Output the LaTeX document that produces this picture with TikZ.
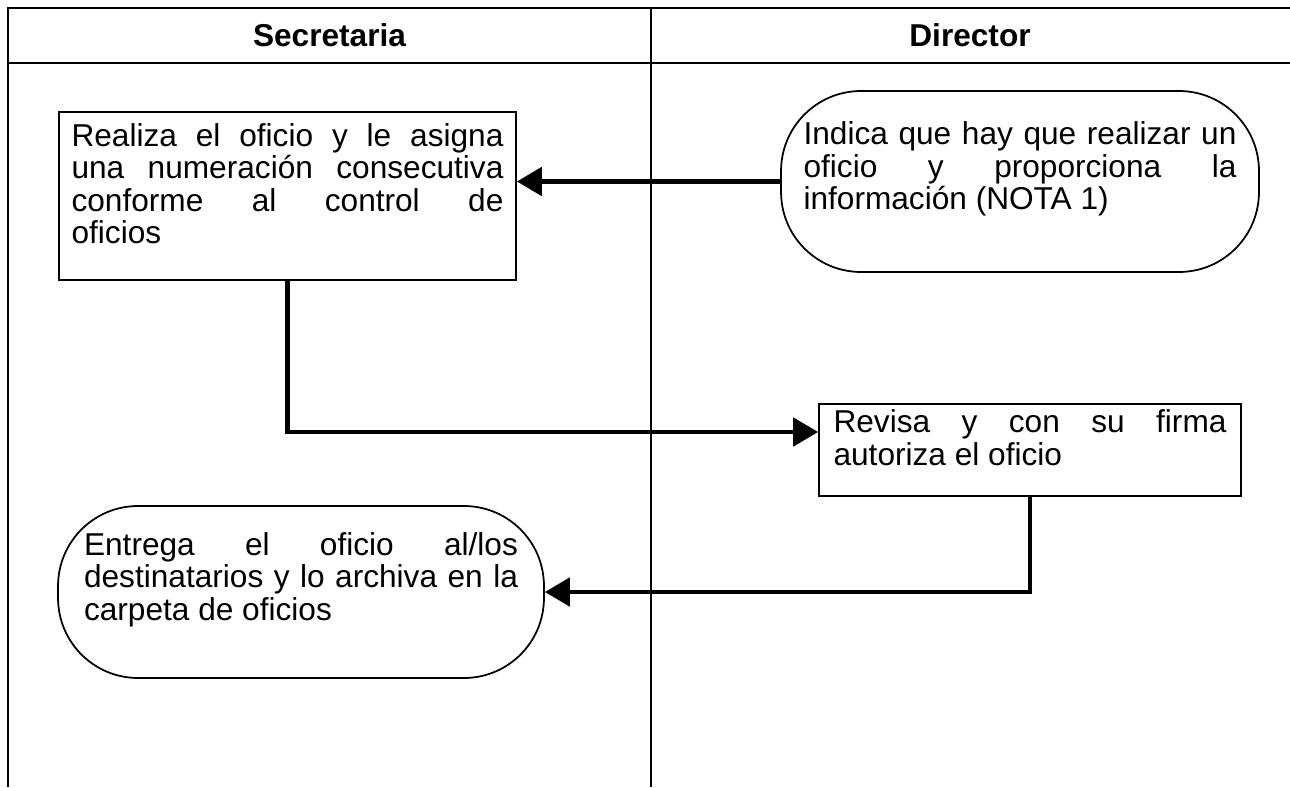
\documentclass[tikz,border=0pt]{standalone}
\usepackage{fontspec}
\setmainfont{Liberation Sans}
\usepackage{tikz}
\usetikzlibrary{arrows.meta}
\hyphenpenalty=10000
\exhyphenpenalty=10000
\tolerance=9999
\emergencystretch=2em
\newcommand{\subir}{\par\kern0.5cm}
\tikzset{
  caja/.style={draw, line width=1pt, rectangle, align=justify, inner xsep=0pt, inner ysep=0pt,
    font=\fontsize{18}{18.5}\selectfont},
  capsula/.style={caja, rounded corners=1.6cm},
  titulo/.style={font=\fontsize{18}{20}\selectfont\bfseries},
  marco/.style={line width=1.1pt},
  flecha/.style={line width=2.8pt, -{Triangle[length=0.5cm,width=0.56cm]}}
}
\begin{document}
\begin{tikzpicture}[x=0.02cm,y=-0.02cm]
	\useasboundingbox (0,0) rectangle (1290,787);
	% tabla
	\draw[marco] (1290,8) -- (8,8) -- (8,787);
	\draw[marco] (8,63) -- (1290,63);
	\draw[marco] (651,8) -- (651,787);
	\node[titulo] (secretaria) at (329.5,35) {Secretaria};
	\node[titulo] (director) at (970,35) {Director};
	% pasos
	\node[caja, minimum width=9.14cm, minimum height=3.36cm, text width=8.64cm] (realiza) at (287.5,196)
		{Realiza el oficio y le asigna\linebreak una numeración consecutiva\linebreak conforme al control de\linebreak oficios\subir};
	\node[capsula, minimum width=9.56cm, minimum height=3.62cm, text width=8.66cm] (indica) at (1020,181.5)
		{Indica que hay que realizar un\linebreak oficio y proporciona la\linebreak información (NOTA 1)\subir};
	\node[caja, minimum width=8.44cm, minimum height=1.84cm, text width=7.86cm] (revisa) at (1030,450)
		{Revisa y con su firma\linebreak autoriza el oficio\subir};
	\node[capsula, minimum width=9.72cm, minimum height=3.44cm, text width=8.68cm] (entrega) at (301,592)
		{Entrega el oficio al/los\linebreak destinatarios y lo archiva en la\linebreak carpeta de oficios\subir};
	% flechas
	\draw[flecha] (indica.west) -- (indica.west -| realiza.east);
	\draw[flecha] (realiza.south) |- ([yshift=0.36cm]revisa.west);
	\draw[flecha] (revisa.south) |- (entrega.east);
\end{tikzpicture}
\end{document}
